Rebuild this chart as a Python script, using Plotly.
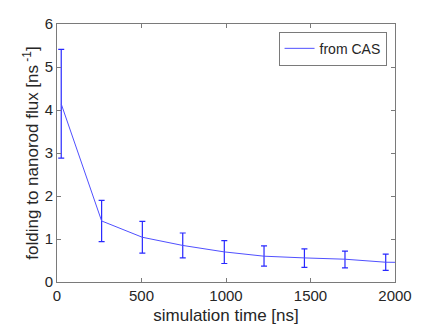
import plotly.graph_objects as go

time_ns = [25, 264, 505, 744, 990, 1225, 1464, 1704, 1945, 2185]
flux = [4.14, 1.42, 1.04, 0.85, 0.70, 0.60, 0.56, 0.53, 0.46, 0.45]
err_plus = [1.27, 0.48, 0.37, 0.29, 0.26, 0.24, 0.21, 0.19, 0.19, 0.19]
err_minus = [1.26, 0.48, 0.37, 0.29, 0.27, 0.23, 0.22, 0.20, 0.19, 0.19]
x_ticks = [0, 500, 1000, 1500, 2000]
y_ticks = [0, 1, 2, 3, 4, 5, 6]

axis_color = "#7a7a7a"
text_color = "#262626"
font = "Liberation Sans, Arial, sans-serif"

fig = go.Figure()
fig.add_trace(go.Scatter(
    x=time_ns, y=flux, mode="lines", name="from CAS",
    line=dict(color="rgb(80,80,255)", width=1),
    error_y=dict(type="data", symmetric=False, array=err_plus, arrayminus=err_minus,
                 color="rgb(40,40,255)", thickness=1.2, width=3),
))

axis_common = dict(showgrid=False, zeroline=False, showline=True, mirror="ticks",
                   linecolor=axis_color, linewidth=1, ticks="inside", ticklen=4,
                   tickcolor=axis_color, automargin=False,
                   tickfont=dict(family=font, size=15, color=text_color),
                   title_font=dict(family=font, size=17, color=text_color))

fig.update_xaxes(range=[0, 2000], tickvals=x_ticks, title_text="simulation time [ns]",
                 title_standoff=6, **axis_common)
fig.update_yaxes(range=[0, 6], tickvals=y_ticks,
                 title_text="folding to nanorod flux [ns<sup> -1</sup>]",
                 title_standoff=1, **axis_common)

fig.update_layout(
    width=436, height=327,
    margin=dict(l=57, r=41, t=24, b=45),
    plot_bgcolor="white", paper_bgcolor="white",
    showlegend=True,
    legend=dict(x=0.975, y=0.97, xanchor="right", yanchor="top",
                bgcolor="white", bordercolor=axis_color, borderwidth=1,
                font=dict(family=font, size=14, color=text_color),
                itemwidth=30, tracegroupgap=0),
)

fig.write_html("out.html", config={"displayModeBar": False},
               post_script="document.body.style.margin='0';document.body.style.overflow='hidden';")
